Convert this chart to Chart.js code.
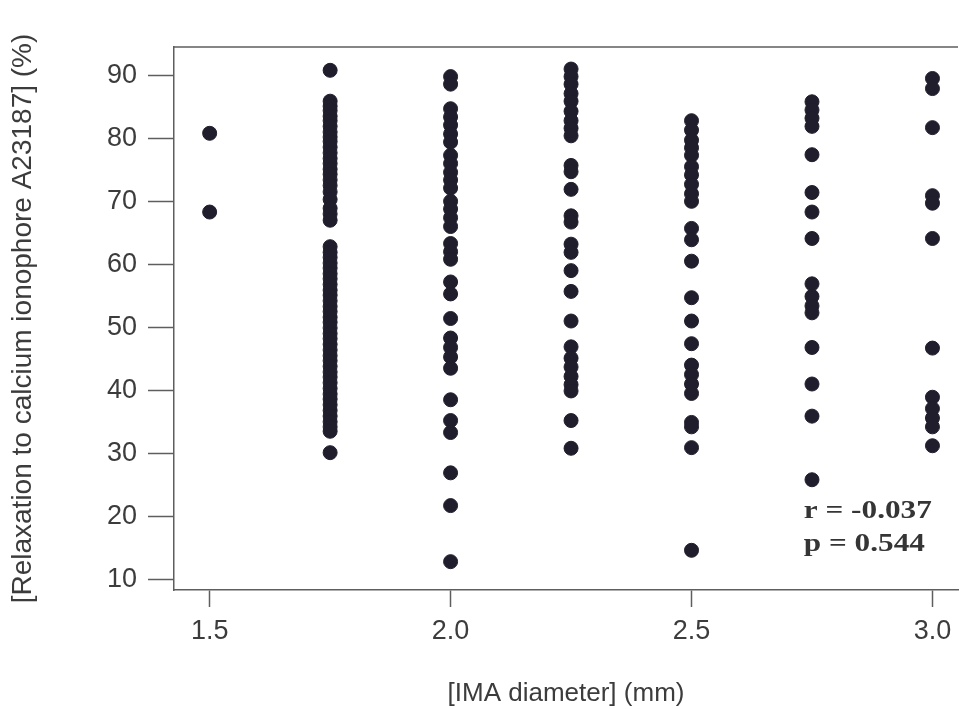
<!DOCTYPE html>
<html>
<head>
<meta charset="utf-8">
<script src="https://cdn.jsdelivr.net/npm/chart.js@4/dist/chart.umd.min.js"></script>
<style>
  html, body { margin: 0; padding: 0; background: #fff; }
  #wrap { width: 966px; height: 709px; }
</style>
</head>
<body>
<div id="wrap"><canvas id="myScatter" width="966" height="709"></canvas></div>
<script>
// IMA diameter groups (mm) and relaxation values (%)
var d150 = [80.9, 68.4];
var d175 = [90.9,
  86.0, 85.2, 84.5, 83.6, 82.9, 82.0, 81.1, 80.3, 79.6, 78.7, 77.8, 76.9, 76.1,
  75.2, 74.4, 73.5, 72.6, 71.6, 70.4, 69.0, 68.1, 67.1,
  62.9, 62.0, 61.2, 60.3, 59.5, 58.6, 57.8, 56.9, 56.0, 55.2, 54.3, 53.4, 52.6,
  51.7, 50.9, 50.0, 49.1, 48.3, 47.4, 46.5, 45.6, 44.8, 43.9, 43.0, 42.2, 41.3,
  40.4, 39.5, 38.7, 37.8, 36.9, 36.0, 35.1, 34.3, 33.6, 30.2];
var d200 = [89.9, 88.7, 84.8, 83.5, 82.2, 80.8, 79.5, 77.4, 76.1, 74.7, 73.5, 72.2,
  70.1, 68.9, 67.5, 66.1, 63.4, 62.1, 60.9, 57.3, 55.4, 51.5, 48.4, 46.9, 45.4,
  43.6, 38.6, 35.3, 33.4, 27.0, 21.8, 12.9];
var d225 = [91.1, 89.9, 88.7, 87.2, 86.0, 84.4, 82.9, 81.7, 80.5, 75.8, 74.8, 72.0,
  67.8, 66.8, 63.3, 62.0, 59.1, 55.8, 51.1, 47.0, 45.2, 43.8, 42.3, 41.0, 40.0,
  35.3, 30.9];
var d250 = [82.9, 81.4, 79.8, 78.6, 77.4, 75.6, 74.3, 72.8, 71.3, 70.1, 65.8, 64.0,
  60.6, 54.8, 51.1, 47.5, 44.1, 42.6, 41.1, 39.6, 35.0, 34.3, 31.0, 14.7];
var d275 = [85.9, 84.6, 83.3, 82.0, 77.5, 71.5, 68.4, 64.2, 57.0, 55.0, 53.5, 52.4,
  46.9, 41.1, 36.0, 25.9];
var d300 = [89.6, 88.0, 81.8, 71.0, 69.8, 64.2, 46.8, 39.0, 37.2, 35.7, 34.3, 31.3];

var diameters = [1.5, 1.75, 2.0, 2.25, 2.5, 2.75, 3.0];
var groups = [d150, d175, d200, d225, d250, d275, d300];

var xTicks = [1.5, 2.0, 2.5, 3.0];
var yTicks = [10, 20, 30, 40, 50, 60, 70, 80, 90];
var statLines = ['r = -0.037', 'p = 0.544'];

var points = [];
groups.forEach(function (vals, i) {
    vals.forEach(function (v) {
        points.push({ x: diameters[i], y: v });
    });
});

var axisColor = '#5e5e5e';
var textColor = '#3c3c3c';
var sans = '"Liberation Sans", Arial, sans-serif';

// top edge of the frame + correlation text
var framePlugin = {
    id: 'frameAndStats',
    afterDraw: function (chart) {
        var ctx = chart.ctx;
        var a = chart.chartArea;
        ctx.save();
        ctx.strokeStyle = axisColor;
        ctx.lineWidth = 1.5;
        ctx.beginPath();
        ctx.moveTo(a.left, a.top);
        ctx.lineTo(a.right, a.top);
        ctx.stroke();

        var xs = chart.scales.x, ys = chart.scales.y;
        var tx = xs.getPixelForValue(2.733);
        ctx.fillStyle = '#353535';
        ctx.font = 'bold 25px "Liberation Serif", "Times New Roman", serif';
        ctx.textAlign = 'left';
        ctx.textBaseline = 'middle';
        ctx.translate(tx, 0);
        ctx.scale(1.25, 1);
        ctx.fillText(statLines[0], 0, ys.getPixelForValue(20.8));
        ctx.fillText(statLines[1], 0, ys.getPixelForValue(15.6));
        ctx.restore();
    }
};

var ctx = document.getElementById('myScatter').getContext('2d');

var myScatter = new Chart(ctx, {
    type: 'scatter',
    data: {
        datasets: [{
            data: points,
            backgroundColor: '#201e2c',
            borderColor: '#201e2c',
            pointRadius: 7,
            pointHoverRadius: 7
        }]
    },
    options: {
        responsive: false,
        animation: false,
        layout: { padding: { top: 47, left: 0, right: 0, bottom: 0 } },
        plugins: {
            legend: { display: false },
            tooltip: { enabled: false }
        },
        scales: {
            x: {
                type: 'linear',
                min: 1.426,
                max: 3.053,
                afterBuildTicks: function (scale) {
                    scale.ticks = xTicks.map(function (v) { return { value: v }; });
                },
                afterFit: function (scale) { scale.height = 119; },
                grid: {
                    drawOnChartArea: false,
                    drawTicks: true,
                    tickLength: 17,
                    tickColor: axisColor,
                    tickWidth: 1.5
                },
                border: { display: true, color: axisColor, width: 1.5 },
                ticks: {
                    padding: 8,
                    color: textColor,
                    font: { family: sans, size: 27 },
                    callback: function (v) { return Number(v).toFixed(1); }
                },
                title: {
                    display: true,
                    text: '[IMA diameter] (mm)',
                    color: textColor,
                    font: { family: sans, size: 26 },
                    padding: { top: 0, bottom: 0 }
                }
            },
            y: {
                type: 'linear',
                min: 8.4,
                max: 94.6,
                afterBuildTicks: function (scale) {
                    scale.ticks = yTicks.map(function (v) { return { value: v }; });
                },
                afterFit: function (scale) { scale.width = 174; },
                grid: {
                    drawOnChartArea: false,
                    drawTicks: true,
                    tickLength: 26,
                    tickColor: axisColor,
                    tickWidth: 1.5
                },
                border: { display: true, color: axisColor, width: 1.5 },
                ticks: {
                    padding: 11,
                    color: textColor,
                    font: { family: sans, size: 27 }
                },
                title: {
                    display: true,
                    text: '[Relaxation to calcium ionophore A23187] (%)',
                    color: textColor,
                    font: { family: sans, size: 28 },
                    padding: { top: 6, bottom: 0 }
                }
            }
        }
    },
    plugins: [framePlugin]
});
</script>
</body>
</html>
